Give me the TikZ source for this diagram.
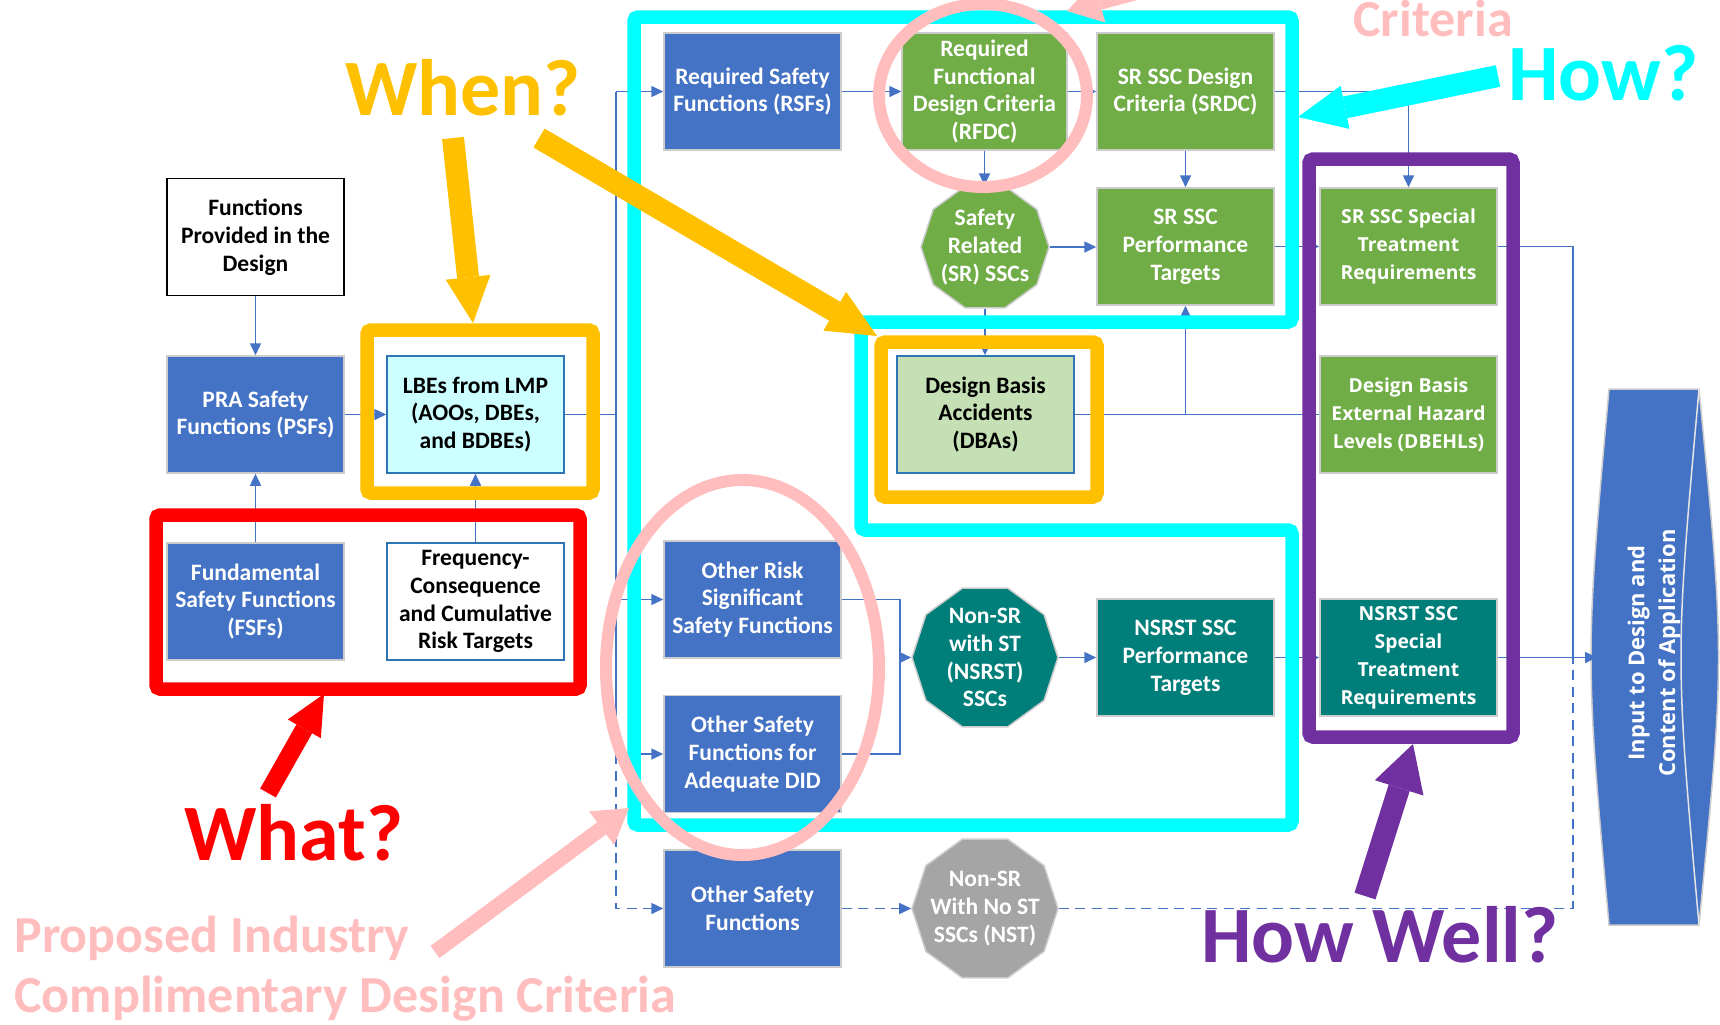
\documentclass[tikz,border=0pt]{standalone}
\usepackage{fontspec}
\setmainfont{Carlito}
\newfontfamily\widefont{Open Sans}
\usetikzlibrary{arrows.meta, shapes.geometric}

\definecolor{boxblue}{HTML}{4472C4}
\definecolor{boxgreen}{HTML}{70AD47}
\definecolor{boxteal}{HTML}{007F7A}
\definecolor{boxgray}{HTML}{A5A5A5}
\definecolor{dbagreen}{HTML}{C5E0B4}
\definecolor{lbecyan}{HTML}{CCFFFF}
\definecolor{edgeblue}{HTML}{2E75B6}
\definecolor{markyellow}{HTML}{FFC000}
\definecolor{markcyan}{HTML}{00FFFF}
\definecolor{markred}{HTML}{FF0000}
\definecolor{markpurple}{HTML}{7030A0}
\definecolor{markpink}{HTML}{FFBDBD}

\tikzset{
  box/.style={rectangle, minimum width=35.4mm, minimum height=23.4mm, inner sep=0pt,
    align=center, text=white, draw=gray!40, line width=0.3mm,
    font=\fontsize{13.4}{15.8}\selectfont\bfseries},
  wide/.style={font=\widefont\fontsize{11}{16}\selectfont\bfseries},
  deca/.style={regular polygon, regular polygon sides=10, inner sep=0pt,
    draw=gray!40, line width=0.3mm},
  decatext/.style={align=center, text=white, inner sep=0pt,
    font=\fontsize{13.4}{15.8}\selectfont\bfseries},
  conn/.style={draw=boxblue, line width=0.3mm},
  arr/.style={conn, -{Triangle[length=2.4mm, width=2.2mm]}},
  dashline/.style={dash pattern=on 2mm off 1.3mm},
  frame/.style={line width=2.7mm, rounded corners=0.8mm},
  ring/.style={draw=markpink, line width=2.4mm},
  bigarrow/.style n args={4}{draw=#1, line width=#2,
    -{Triangle[length=#3, width=#4, line width=0pt]}},
  bigword/.style={anchor=base west, inner sep=0pt,
    font=\fontsize{45.5}{50}\selectfont\bfseries},
  pinkword/.style={anchor=base west, inner sep=0pt, text=markpink,
    font=\fontsize{29.6}{34}\selectfont\bfseries}
}

\begin{document}
\begin{tikzpicture}[x=0.2mm, y=-0.2mm]
  \useasboundingbox (0,0) rectangle (1720,1024);
  \clip (0,0) rectangle (1720,1024);

  % left column
  \node[box, fill=white, text=black, draw=black] (func) at (255.5,237) {Functions\\Provided in the\\Design};
  \node[box, fill=boxblue] (psf) at (255.5,414.5) {PRA Safety\\Functions (PSFs)};
  \node[box, fill=lbecyan, text=black, draw=edgeblue] (lbe) at (475.5,414.5) {LBEs from LMP\\(AOOs, DBEs,\\and BDBEs)};
  \node[box, fill=boxblue] (fsf) at (255.5,601.5) {Fundamental\\Safety Functions\\(FSFs)};
  \node[box, fill=white, text=black, draw=edgeblue] (freq) at (475.5,601.5) {Frequency-\\Consequence\\and Cumulative\\Risk Targets};

  % safety functions
  \node[box, fill=boxblue] (rsf) at (752.5,91.5) {Required Safety\\Functions (RSFs)};
  \node[box, fill=boxblue] (orssf) at (752.5,599.5) {Other Risk\\Significant\\Safety Functions};
  \node[box, fill=boxblue] (osfdid) at (752.5,754) {Other Safety\\Functions for\\Adequate DID};
  \node[box, fill=boxblue] (osf) at (752.5,908.5) {Other Safety\\Functions};

  % criteria and SSCs
  \node[box, fill=boxgreen, minimum width=33mm] (rfdc) at (984.5,91.5) {Required\\Functional\\Design Criteria\\(RFDC)};
  \node[box, fill=boxgreen] (srdc) at (1185.5,91.5) {SR SSC Design\\Criteria (SRDC)};
  \node[deca, fill=boxgreen, minimum size=25.6mm,
    label={[decatext]center:{Safety\\Related\\(SR) SSCs}}] (srssc) at (985,247) {};
  \node[box, fill=boxgreen] (srperf) at (1185.5,246.5) {SR SSC\\Performance\\Targets};
  \node[box, fill=dbagreen, text=black, draw=edgeblue] (dba) at (985.5,414.5) {Design Basis\\Accidents\\(DBAs)};
  \node[deca, fill=boxteal, minimum size=29.2mm,
    label={[decatext]center:{Non-SR\\with ST\\(NSRST)\\SSCs}}] (nsrst) at (985,657.5) {};
  \node[box, fill=boxteal] (nsrperf) at (1185.5,657.5) {NSRST SSC\\Performance\\Targets};
  \node[deca, fill=boxgray, minimum size=29.2mm,
    label={[decatext]center:{Non-SR\\With No ST\\SSCs (NST)}}] (nst) at (985,908.5) {};

  % right column
  \node[box, wide, fill=boxgreen] (srst) at (1408.5,246.5) {SR SSC Special\\Treatment\\Requirements};
  \node[box, wide, fill=boxgreen] (dbehl) at (1408.5,414.5) {Design Basis\\External Hazard\\Levels (DBEHLs)};
  \node[box, wide, fill=boxteal] (nsrstst) at (1408.5,657.5) {NSRST SSC\\Special\\Treatment\\Requirements};

  % output shape
  \filldraw[fill=boxblue, draw=gray!40, line width=0.3mm] (1609,389) -- (1699,389)
    .. controls (1725,657) .. (1699,925) -- (1609,925)
    .. controls (1585,657) .. (1609,389) -- cycle;
  \draw[white!80!gray, line width=0.3mm] (1699,389) .. controls (1675,657) .. (1699,925);
  \node[rotate=90, align=center, text=white, font=\widefont\fontsize{12.5}{17.6}\selectfont\bfseries]
    (inp) at (1654,653) {Input to Design and\\Content of Application};
  \coordinate (inpin) at (1597,657.5);

  % connectors
  \coordinate (bus) at (616,91.5);
  \coordinate (rail) at (1573,657.5);
  \coordinate (mrg) at (900,657.5);
  \draw[arr] (func.south) -- (psf.north);
  \draw[arr] (psf.east) -- (lbe.west);
  \draw[arr] (fsf.north) -- (psf.south);
  \draw[arr] (freq.north) -- (lbe.south);
  \draw[conn] (lbe.east) -- (lbe.east -| bus);
  \draw[conn] (bus) -- (bus |- osfdid.west);
  \draw[arr] (bus) -- (rsf.west);
  \draw[arr] (bus |- orssf.west) -- (orssf.west);
  \draw[arr] (bus |- osfdid.west) -- (osfdid.west);
  \draw[arr, dashline] (bus |- osfdid.west) |- (osf.west);
  \draw[arr] (rsf.east) -- (rfdc.west);
  \draw[arr] (rfdc.east) -- (srdc.west);
  \draw[arr] (srdc.east) -| (srst.north);
  \draw[arr] (rfdc.south) -- (rfdc.south |- srssc.north);
  \draw[arr] (srdc.south) -- (srperf.north);
  \draw[arr] (srssc.east) -- (srssc.east -| srperf.west);
  \draw[arr] (srperf.east) -- (srst.west);
  \draw[arr] (srssc.south) -- (srssc.south |- dba.north);
  \draw[conn] (dba.east) -- (dba.east -| dbehl.west);
  \draw[arr] (dba.east -| srperf.south) -- (srperf.south);
  \draw[conn] (srst.east) -| (rail);
  \draw[arr] (nsrstst.east) -- (inpin);
  \draw[conn] (orssf.east) -| (mrg) |- (osfdid.east);
  \draw[arr] (mrg) -- (nsrst.west);
  \draw[arr] (nsrst.east) -- (nsrst.east -| nsrperf.west);
  \draw[arr] (nsrperf.east) -- (nsrstst.west);
  \draw[arr, dashline] (osf.east) -- (osf.east -| nst.west);
  \draw[conn, dashline] (nst.east) -| (rail);

  % coloured frames
  \draw[frame, markcyan] (634,17) -- (1292,17) -- (1292,322) -- (861,322) -- (861,530)
    -- (1292,530) -- (1292,825) -- (634,825) -- cycle;
  \draw[frame, markyellow] (367,330) rectangle (593,493);
  \draw[frame, markyellow] (881,342) rectangle (1097,497);
  \draw[frame, markred] (156,515) rectangle (580,689);
  \draw[frame, markpurple] (1309,159) rectangle (1513,737);
  \draw[ring] (983,95.5) ellipse [x radius=20.8mm, y radius=18.3mm];
  \draw[ring] (742.5,667.5) ellipse [x radius=27.3mm, y radius=37.5mm];

  % big arrows
  \draw[bigarrow={markyellow}{4.4mm}{9.2mm}{9mm}] (453,138) -- (473,323);
  \draw[bigarrow={markyellow}{4.4mm}{9.8mm}{9mm}] (539,138) -- (877,336);
  \draw[bigarrow={markred}{3.6mm}{8mm}{7.6mm}] (268,793) -- (324,694);
  \draw[bigarrow={markcyan}{4.4mm}{9.6mm}{8.8mm}] (1498,76) -- (1298,117);
  \draw[bigarrow={markpurple}{4.4mm}{9.2mm}{10.2mm}] (1365,896) -- (1413,744);
  \draw[bigarrow={markpink}{3mm}{6.8mm}{8.4mm}] (435,952) -- (629,808);
  \draw[bigarrow={markpink}{3mm}{6.8mm}{8.4mm}] (1300,-51) -- (1067,11);

  % question words
  \node[bigword, text=markyellow] (when) at (345,115) {When?};
  \node[bigword, text=markred] (what) at (184,860) {What?};
  \node[bigword, text=markcyan] (how) at (1508,100) {How?};
  \node[bigword, text=markpurple] (howwell) at (1201,962) {How Well?};
  \node[pinkword] (crit) at (1353,36) {Criteria};
  \node[pinkword] (prop) at (14,952) {Proposed Industry};
  \node[pinkword] (comp) at (14,1012) {Complimentary Design Criteria};
\end{tikzpicture}
\end{document}
